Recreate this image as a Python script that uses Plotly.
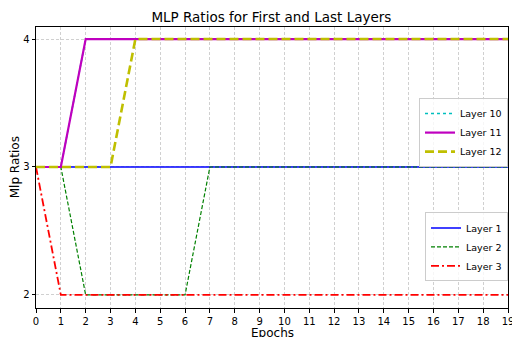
import plotly.graph_objects as go

epochs = list(range(20))
layer1 = [3] * 20
layer2 = [3, 3, 2, 2, 2, 2, 2, 3, 3, 3, 3, 3, 3, 3, 3, 3, 3, 3, 3, 3]
layer3 = [3] + [2] * 19
layer10 = [3, 3] + [4] * 18
layer11 = [3, 3] + [4] * 18
layer12 = [3, 3, 3, 3] + [4] * 16
yticks = [2, 3, 4]

fig = go.Figure()
fig.add_trace(go.Scatter(x=epochs, y=layer1, mode="lines", name="Layer 1",
                         line=dict(color="#0000ff", width=1.6), legend="legend2"))
fig.add_trace(go.Scatter(x=epochs, y=layer2, mode="lines", name="Layer 2",
                         line=dict(color="#008000", width=1.2, dash="4px,2px"), legend="legend2"))
fig.add_trace(go.Scatter(x=epochs, y=layer3, mode="lines", name="Layer 3",
                         line=dict(color="#ff0000", width=1.8, dash="8px,3px,2px,3px"), legend="legend2"))
fig.add_trace(go.Scatter(x=epochs, y=layer10, mode="lines", name="Layer 10",
                         line=dict(color="#00bfbf", width=1.5, dash="dot"), legend="legend"))
fig.add_trace(go.Scatter(x=epochs, y=layer11, mode="lines", name="Layer 11",
                         line=dict(color="#bf00bf", width=2.2), legend="legend"))
fig.add_trace(go.Scatter(x=epochs, y=layer12, mode="lines", name="Layer 12",
                         line=dict(color="#bfbf00", width=2.6, dash="9px,4px"), legend="legend"))

font = "DejaVu Sans"
leg_common = dict(xanchor="right", yanchor="top",
                  bgcolor="rgba(255,255,255,0.8)", bordercolor="#cccccc", borderwidth=1,
                  font=dict(size=9.5), tracegroupgap=0, itemwidth=30)
axis_common = dict(ticks="outside", ticklen=3.5, tickcolor="black", automargin=False,
                   showline=True, linecolor="black", linewidth=1, mirror=True,
                   showgrid=True, gridcolor="#d0d0d0", griddash="3px,2px", gridwidth=0.8,
                   zeroline=False, ticklabeloverflow="allow")
fig.update_layout(
    width=512, height=337,
    margin=dict(l=36, r=4, t=27, b=29, autoexpand=False),
    paper_bgcolor="white", plot_bgcolor="white",
    font=dict(family=font, size=10, color="black"),
    title=dict(text="MLP Ratios for First and Last Layers", x=0.53, xanchor="center",
               y=0.95, yanchor="middle", font=dict(size=13.5)),
    showlegend=True,
    legend=dict(x=1.0, y=0.747, **leg_common),
    legend2=dict(x=1.0, y=0.34, **leg_common),
    xaxis=dict(range=[0, 19], tickmode="array", tickvals=epochs, **axis_common),
    yaxis=dict(range=[1.898, 4.094], tickmode="array", tickvals=yticks, **axis_common),
    annotations=[
        dict(text="Epochs", xref="paper", yref="paper", x=0.5, y=-0.056,
             xanchor="center", yanchor="top", showarrow=False, font=dict(size=12)),
        dict(text="Mlp Ratios", xref="paper", yref="paper", x=-0.045, y=0.5,
             xanchor="center", yanchor="middle", textangle=-90, showarrow=False,
             font=dict(size=12)),
    ],
)

fig.write_html("out.html", config={"displayModeBar": False},
               post_script="document.body.style.margin='0';document.body.style.overflow='hidden';")
